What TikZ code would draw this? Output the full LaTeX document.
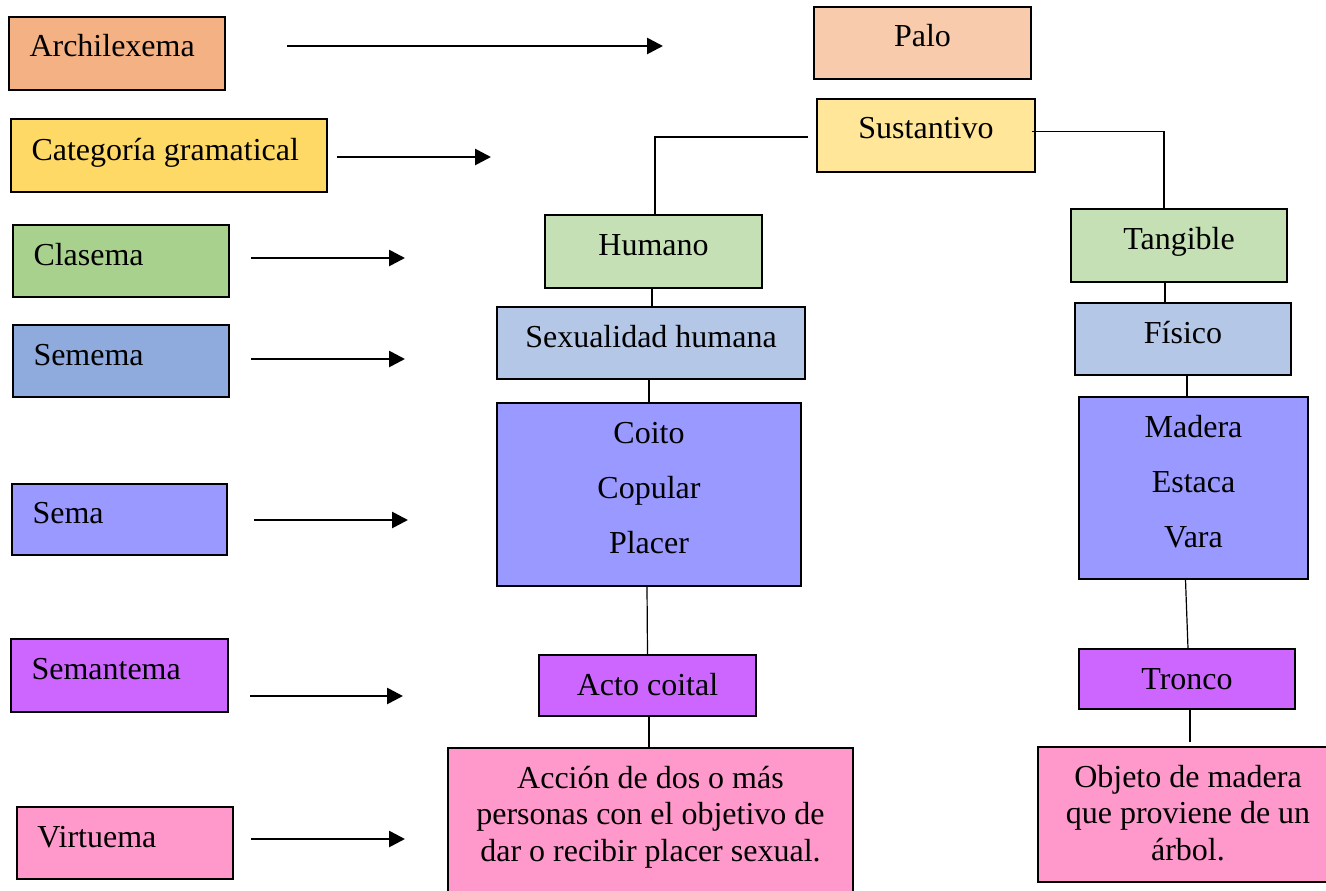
\documentclass[tikz,border=0pt]{standalone}
\usepackage{fontspec}
\setmainfont{Liberation Serif}
\usetikzlibrary{arrows.meta,calc}

% level colours: strong shade for the legend, light shade for the tree
\definecolor{archiC}{HTML}{F4B183}
\definecolor{paloC}{HTML}{F8CBAD}
\definecolor{catC}{HTML}{FFD966}
\definecolor{sustC}{HTML}{FFE699}
\definecolor{clasC}{HTML}{A9D18E}
\definecolor{clasL}{HTML}{C5E0B4}
\definecolor{semeC}{HTML}{8FAADC}
\definecolor{semeL}{HTML}{B4C7E7}
\definecolor{semaC}{HTML}{9999FF}
\definecolor{semtC}{HTML}{CC66FF}
\definecolor{virtC}{HTML}{FF99CC}

\begin{document}
\begin{tikzpicture}[x=1pt,y=-1pt,
  box/.style={draw=black, line width=1.2pt, rectangle, inner sep=0pt,
    font=\fontsize{32}{36.5}\selectfont, text height=22pt, text depth=14pt},
  legend/.style={box, align=flush left, inner xsep=20.5pt},
  % three short lines, widely spaced
  listbox/.style={box, align=center, font=\fontsize{32}{55}\selectfont, text height=132pt},
  % three lines of running text
  parbox/.style={box, align=center, font=\fontsize{32}{36.5}\selectfont, text height=95pt},
  conn/.style={line width=1.2pt, draw=black},
  pointer/.style={line width=2.7pt, -{Triangle[length=16pt,width=16pt]}}
]
\fill[white] (0,0) rectangle (1326,891);
\useasboundingbox (0,0) rectangle (1326,891);

% ---- legend column ----
\node[legend, fill=archiC, text width=175pt, minimum height=73pt, text depth=15pt] (arch) at (117,53.5) {Archilexema};
\node[legend, fill=catC, text width=275pt, minimum height=73pt, text depth=13pt] (cat) at (169,155.5) {Categoría gramatical};
\node[legend, fill=clasC, text width=175pt, minimum height=72pt] (clas) at (121,261) {Clasema};
\node[legend, fill=semeC, text width=175pt, minimum height=72pt] (seme) at (121,361) {Semema};
\node[legend, fill=semaC, text width=174pt, minimum height=71pt] (sema) at (119.5,519.5) {Sema};
\node[legend, fill=semtC, text width=176pt, minimum height=73pt, text depth=15pt] (semt) at (119.5,675.5) {Semantema};
\node[legend, fill=virtC, text width=175pt, minimum height=72pt] (virt) at (125,843) {Virtuema};

% ---- pointers from the legend ----
\coordinate (p1a) at (287,46);  \coordinate (p1b) at (663,46);
\coordinate (p2a) at (337,157); \coordinate (p2b) at (491,157);
\coordinate (p3a) at (251,258); \coordinate (p3b) at (405,258);
\coordinate (p4a) at (251,359); \coordinate (p4b) at (405,359);
\coordinate (p5a) at (254,520); \coordinate (p5b) at (408,520);
\coordinate (p6a) at (250,696); \coordinate (p6b) at (403,696);
\coordinate (p7a) at (251,839); \coordinate (p7b) at (405,839);
\foreach \k in {1,...,7} \draw[pointer] (p\k a) -- (p\k b);

% ---- tree ----
\node[box, fill=paloC, minimum width=217pt, minimum height=72pt] (palo) at (922.5,43) {Palo};
\node[box, fill=sustC, minimum width=218pt, minimum height=73pt, text depth=15pt] (sust) at (926,135.5) {Sustantivo};

\node[box, fill=clasL, minimum width=217pt, minimum height=73pt, text depth=15pt] (humano) at (653.5,251.5) {Humano};
\node[box, fill=semeL, minimum width=308pt, minimum height=72pt] (sexual) at (651,343) {Sexualidad humana};
\node[listbox, fill=semaC, minimum width=304pt, minimum height=183pt, text depth=15pt] (coito) at (649,494.5) {Coito\\Copular\\Placer};
\node[box, fill=semtC, minimum width=217pt, minimum height=61pt, text depth=3pt] (acto) at (647.5,685.5) {Acto coital};
\node[parbox, fill=virtC, minimum width=405pt, minimum height=152pt, text depth=21pt] (accion) at (650.5,824)
  {Acción de dos o más\\personas con el objetivo de\\dar o recibir placer sexual.};

\node[box, fill=clasL, minimum width=216pt, minimum height=73pt, text depth=15pt] (tang) at (1179,245.5) {Tangible};
\node[box, fill=semeL, minimum width=216pt, minimum height=72pt] (fisico) at (1183,339) {Físico};
\node[listbox, fill=semaC, minimum width=229pt, minimum height=182pt, text depth=14pt] (madera) at (1193.5,488) {Madera\\Estaca\\Vara};
\node[box, fill=semtC, minimum width=216pt, minimum height=60pt, text depth=2pt] (tronco) at (1187,679) {Tronco};
\node[parbox, fill=virtC, minimum width=300pt, minimum height=135pt, text depth=4pt] (objeto) at (1188,814.5)
  {Objeto de madera\\que proviene de un\\árbol.};

% ---- tree connectors ----
\draw[conn] ([xshift=-8pt,yshift=-1.5pt]sust.west) -| ([xshift=1.5pt]humano.north);
\draw[conn] ([xshift=-4pt,yshift=4pt]sust.east) -| ([xshift=-15pt]tang.north);
\draw[conn] ([xshift=-1.5pt]humano.south) -- ([xshift=-1.5pt]humano.south |- sexual.north);
\draw[conn] ([xshift=-2pt]sexual.south) -- ([xshift=-2pt]sexual.south |- coito.north);
\draw[conn] ([xshift=-2pt]coito.south) -- (acto.north);
\draw[conn] ([xshift=1.5pt]acto.south) -- ([xshift=1.5pt]acto.south |- accion.north);
\draw[conn] ([xshift=-14pt]tang.south) -- ([xshift=-14pt]tang.south |- fisico.north);
\draw[conn] ([xshift=4pt]fisico.south) -- ([xshift=4pt]fisico.south |- madera.north);
\draw[conn] ([xshift=-8pt]madera.south) -- ([xshift=1pt]tronco.north);
\draw[conn] ([xshift=3pt]tronco.south) -- ([xshift=3pt,yshift=4pt]tronco.south |- objeto.north);
\end{tikzpicture}
\end{document}
